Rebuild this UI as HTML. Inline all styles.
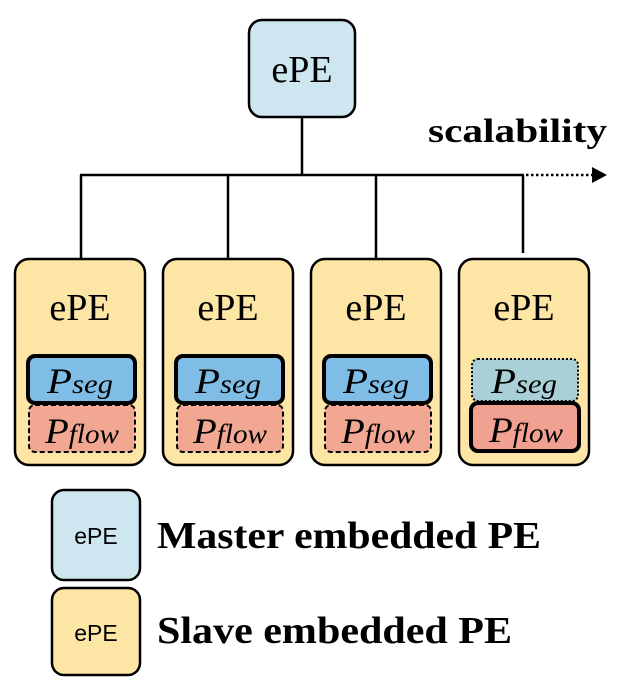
<!DOCTYPE html>
<html><head><style>
body{margin:0;width:622px;height:692px;background:#fff;overflow:hidden}
</style></head><body>
<svg width="622" height="692" xmlns="http://www.w3.org/2000/svg" font-family="Liberation Serif, serif">
<rect x="249" y="20" width="106" height="97" rx="13" fill="#cde6f0" stroke="#000" stroke-width="2.5"/>
<text x="302" y="82" font-size="38" text-anchor="middle">ePE</text>
<line x1="302" y1="117" x2="302" y2="175" stroke="#000" stroke-width="2.5"/>
<line x1="80" y1="175" x2="524" y2="175" stroke="#000" stroke-width="2.5"/>
<line x1="526" y1="175" x2="592" y2="175" stroke="#000" stroke-width="2.5" stroke-dasharray="2.5,2.5"/>
<polygon points="592,167 607,175 592,183" fill="#000"/>
<text x="428" y="142" font-size="34" font-weight="bold" textLength="179" lengthAdjust="spacingAndGlyphs">scalability</text>
<g stroke="#000" stroke-width="2.5">
<line x1="81" y1="175" x2="81" y2="258"/><line x1="228" y1="175" x2="228" y2="258"/>
<line x1="376" y1="175" x2="376" y2="258"/><line x1="523" y1="175" x2="523" y2="253"/>
</g>
<g id="b">
<rect x="15" y="259" width="130" height="206" rx="14" fill="#fde5a6" stroke="#000" stroke-width="2.5"/>
<text x="80" y="320" font-size="38" text-anchor="middle">ePE</text>
<rect x="29" y="405" width="106" height="47" rx="6" fill="#f1a792" stroke="#000" stroke-width="2" stroke-dasharray="5,3"/>
<rect x="28" y="356" width="107" height="47" rx="7" fill="#7fbde6" stroke="#000" stroke-width="4"/>
<text x="47" y="393" font-size="36" font-style="italic" textLength="66" lengthAdjust="spacingAndGlyphs">P<tspan font-size="27">seg</tspan></text>
<text x="45" y="443" font-size="36" font-style="italic" textLength="74" lengthAdjust="spacingAndGlyphs">P<tspan font-size="27">flow</tspan></text>
</g>
<use href="#b" x="148"/>
<use href="#b" x="296"/>
<rect x="459" y="259" width="130" height="206" rx="14" fill="#fde5a6" stroke="#000" stroke-width="2.5"/>
<text x="524" y="320" font-size="38" text-anchor="middle">ePE</text>
<rect x="472" y="359" width="106" height="42" rx="6" fill="#a9d0d7" stroke="#000" stroke-width="2" stroke-dasharray="2,2"/>
<rect x="471" y="403" width="108" height="48" rx="7" fill="#f1a192" stroke="#000" stroke-width="4"/>
<text x="491" y="393" font-size="36" font-style="italic" textLength="66" lengthAdjust="spacingAndGlyphs">P<tspan font-size="27">seg</tspan></text>
<text x="489" y="442" font-size="36" font-style="italic" textLength="74" lengthAdjust="spacingAndGlyphs">P<tspan font-size="27">flow</tspan></text>
<rect x="52" y="490" width="88" height="90" rx="12" fill="#cde6f0" stroke="#000" stroke-width="2.5"/>
<text x="96" y="544" font-size="23" font-family="Liberation Sans, sans-serif" text-anchor="middle">ePE</text>
<rect x="52" y="588" width="88" height="87" rx="12" fill="#fde5a6" stroke="#000" stroke-width="2.5"/>
<text x="96" y="641" font-size="23" font-family="Liberation Sans, sans-serif" text-anchor="middle">ePE</text>
<text x="157" y="548" font-size="38" font-weight="bold" textLength="384" lengthAdjust="spacingAndGlyphs">Master embedded PE</text>
<text x="157" y="643" font-size="38" font-weight="bold" textLength="355" lengthAdjust="spacingAndGlyphs">Slave embedded PE</text>
</svg>
</body></html>
